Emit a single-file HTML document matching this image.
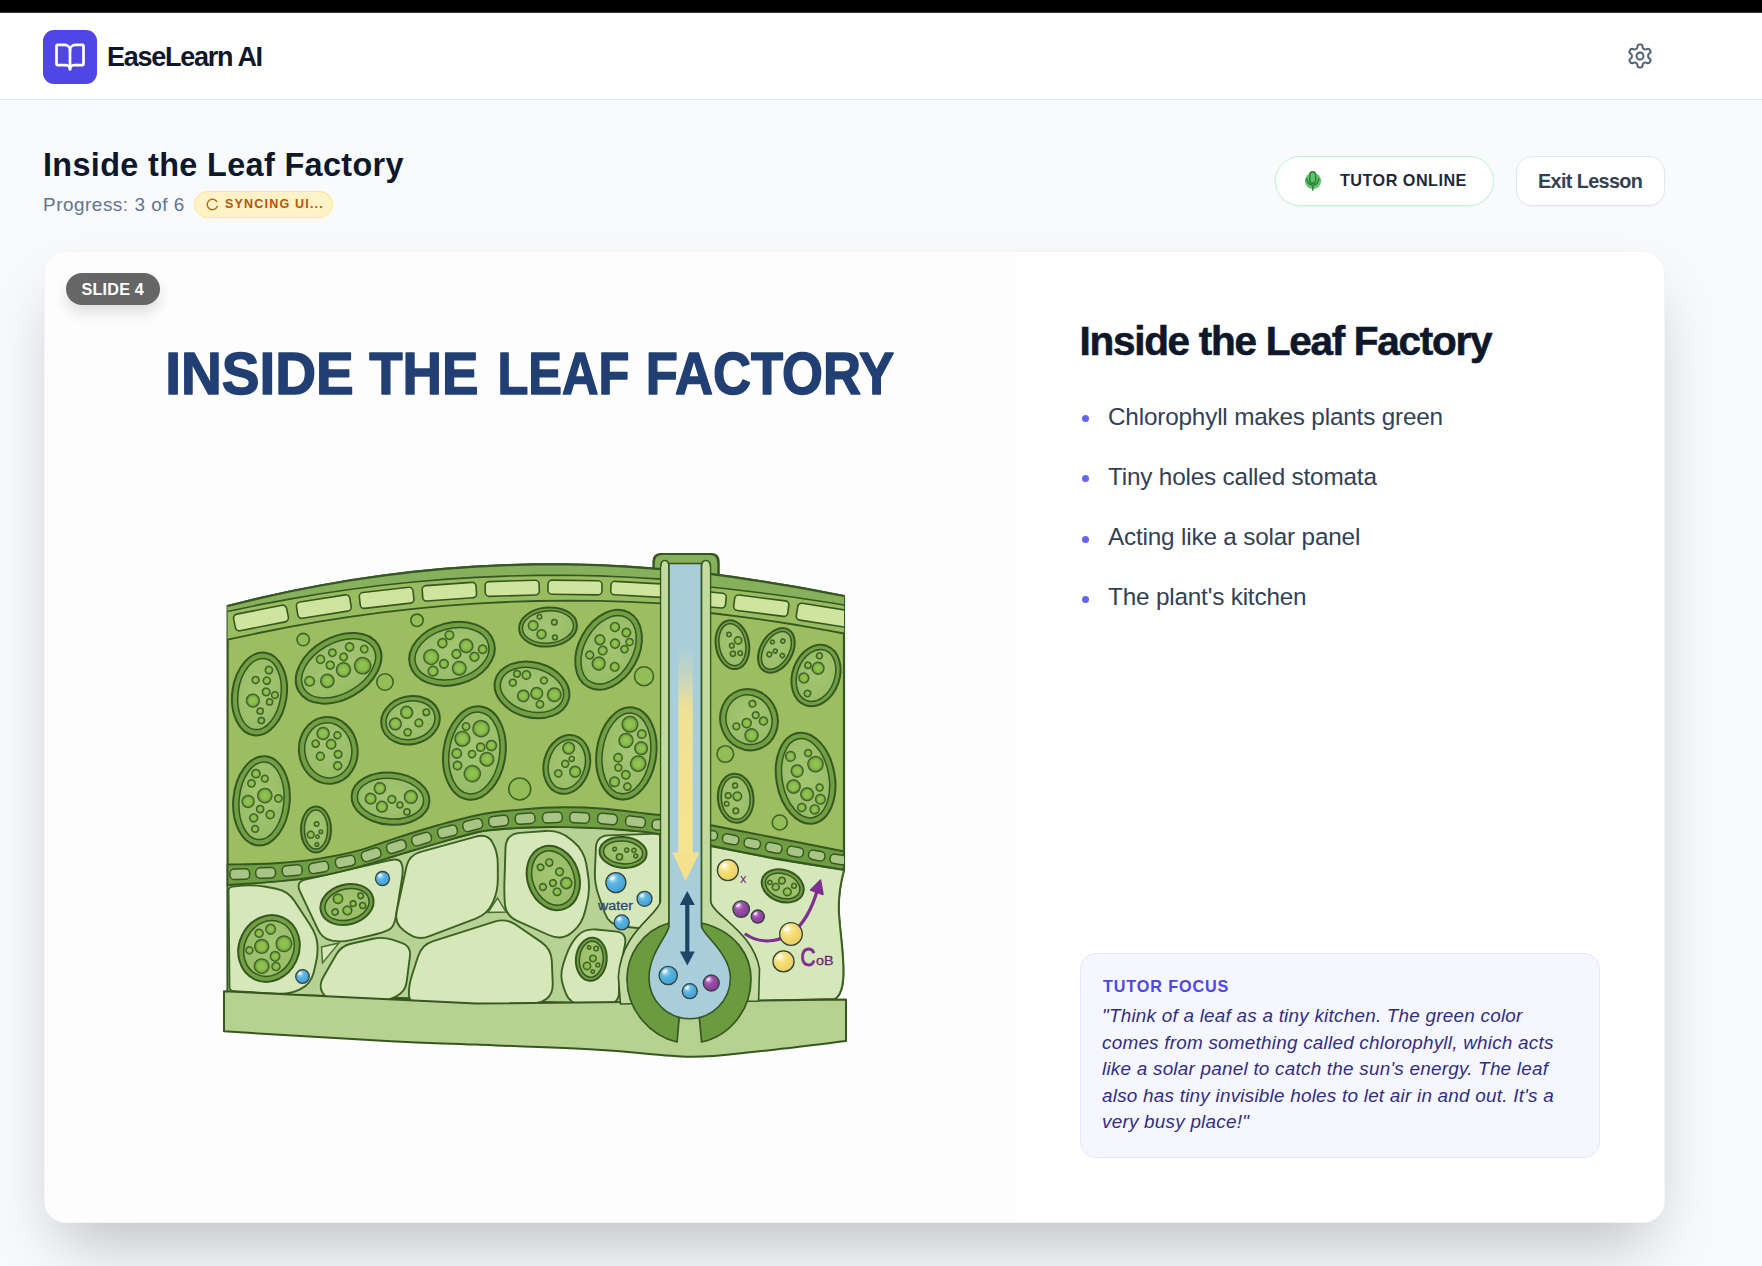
<!DOCTYPE html>
<html><head><meta charset="utf-8">
<style>
*{margin:0;padding:0;box-sizing:border-box}
html,body{width:1762px;height:1266px;overflow:hidden;background:#f8fafc;font-family:"Liberation Sans",sans-serif;position:relative}
.abs{position:absolute}
#topbar{left:0;top:0;width:1762px;height:13px;background:#000}
#topbar:after{content:"";position:absolute;left:0;right:0;bottom:0;height:1px;background:#3a3a3a}
#header{left:0;top:13px;width:1762px;height:87px;background:#fff;border-bottom:1.35px solid #e2e8f0}
#logo{left:43px;top:30px;width:54px;height:54px;border-radius:11px;background:#4f46e5}
#brand{left:107px;top:40.8px;font-size:27px;font-weight:700;color:#0f172a;letter-spacing:-1.27px;white-space:nowrap;line-height:32px}
#gear{left:1626px;top:42px}
#title{left:43px;top:144.8px;font-size:32.4px;font-weight:700;color:#0f172a;letter-spacing:0.35px;white-space:nowrap;line-height:40px}
#progress{left:43px;top:194px;font-size:18.9px;color:#64748b;letter-spacing:0.53px;white-space:nowrap;line-height:22px}
#badge{left:194px;top:191px;width:139px;height:27px;border-radius:14px;background:#fef3c7;border:1.35px solid #fde68a}
#badgetxt{left:225px;top:197px;font-size:12.5px;font-weight:700;color:#b45309;letter-spacing:1.2px;white-space:nowrap;line-height:14px}
#tutor{left:1275px;top:156px;width:219px;height:50px;border-radius:25px;background:#fff;border:1.35px solid #bbf7d0;box-shadow:0 1px 2px rgba(0,0,0,.04)}
#tutortxt{left:1340px;top:171px;font-size:16.2px;font-weight:700;color:#1e293b;letter-spacing:0.48px;white-space:nowrap;line-height:18px}
#exit{left:1516px;top:156px;width:149px;height:50px;border-radius:16px;background:#fff;border:1.35px solid #e2e8f0;box-shadow:0 1px 2px rgba(0,0,0,.04)}
#exittxt{left:1538px;top:169.5px;font-size:19.8px;font-weight:700;color:#334155;letter-spacing:-0.62px;white-space:nowrap;line-height:22px}
#card{left:44px;top:251px;width:1621px;height:972px;border-radius:21.6px;background:#fff;box-shadow:0 33.75px 67.5px -16.2px rgba(0,0,0,.25);overflow:hidden;border:1px solid #f1f5f9}
#leftpane{left:0;top:0;width:971px;height:972px;background:#fdfdfd;border-right:1.35px solid #f1f5f9}
#slidebadge{left:21px;top:21px;width:94px;height:32px;border-radius:16px;background:#666;box-shadow:0 8px 14px rgba(0,0,0,.12)}
#slidetxt{left:36.5px;top:27.5px;font-size:16.2px;font-weight:700;color:#fff;letter-spacing:0.2px;white-space:nowrap;line-height:18px}
#rtitle{left:1079.5px;top:317px;font-size:40.5px;font-weight:bold;color:#0f172a;letter-spacing:-1.28px;-webkit-text-stroke:0.6px #0f172a;white-space:nowrap;line-height:48px}
.bul{position:absolute;left:1082px;width:7px;height:7px;border-radius:50%;background:#6366f1}
.btxt{position:absolute;left:1108px;font-size:24.3px;color:#334155;letter-spacing:-0.18px;white-space:nowrap;line-height:30px}
#focus{left:1080px;top:953px;width:520px;height:205px;border-radius:16px;background:#f5f6fe;border:1.35px solid #e0e7ff}
#focuslbl{left:1103px;top:977px;font-size:16.2px;font-weight:700;color:#4f46e5;letter-spacing:0.87px;white-space:nowrap;line-height:18px}
#quote{left:1102px;top:1003px;width:480px;font-size:18.9px;font-style:italic;color:#312e81;line-height:26.6px;letter-spacing:0.23px}
.q{display:block;white-space:nowrap}
</style></head><body>
<div id="topbar" class="abs"></div>
<div id="header" class="abs"></div>
<div id="logo" class="abs">
<svg width="54" height="54" viewBox="0 0 54 54"><g transform="translate(10.8,10.8) scale(1.35)" fill="none" stroke="#fff" stroke-width="2" stroke-linecap="round" stroke-linejoin="round"><path d="M12 7v14"/><path d="M3 18a1 1 0 0 1-1-1V4a1 1 0 0 1 1-1h5a4 4 0 0 1 4 4 4 4 0 0 1 4-4h5a1 1 0 0 1 1 1v13a1 1 0 0 1-1 1h-6a3 3 0 0 0-3 3 3 3 0 0 0-3-3z"/></g></svg>
</div>
<div id="brand" class="abs">EaseLearn AI</div>
<div id="gear" class="abs"><svg width="28" height="28" viewBox="0 0 24 24" fill="none" stroke="#4b5b73" stroke-width="1.6" stroke-linecap="round" stroke-linejoin="round"><path d="M12.22 2h-.44a2 2 0 0 0-2 2v.18a2 2 0 0 1-1 1.73l-.43.25a2 2 0 0 1-2 0l-.15-.08a2 2 0 0 0-2.73.73l-.22.38a2 2 0 0 0 .73 2.73l.15.1a2 2 0 0 1 1 1.72v.51a2 2 0 0 1-1 1.74l-.15.09a2 2 0 0 0-.73 2.73l.22.38a2 2 0 0 0 2.73.73l.15-.08a2 2 0 0 1 2 0l.43.25a2 2 0 0 1 1 1.73V20a2 2 0 0 0 2 2h.44a2 2 0 0 0 2-2v-.18a2 2 0 0 1 1-1.73l.43-.25a2 2 0 0 1 2 0l.15.08a2 2 0 0 0 2.73-.73l.22-.39a2 2 0 0 0-.73-2.73l-.15-.08a2 2 0 0 1-1-1.74v-.5a2 2 0 0 1 1-1.74l.15-.09a2 2 0 0 0 .73-2.73l-.22-.38a2 2 0 0 0-2.73-.73l-.15.08a2 2 0 0 1-2 0l-.43-.25a2 2 0 0 1-1-1.73V4a2 2 0 0 0-2-2z"/><circle cx="12" cy="12" r="3"/></svg></div>

<div id="title" class="abs">Inside the Leaf Factory</div>
<div id="progress" class="abs">Progress: 3 of 6</div>
<div id="badge" class="abs"></div>
<svg class="abs" style="left:200px;top:196px" width="24" height="18" viewBox="200 196 24 18"><path d="M216.66 201.52 A5.2 5.2 0 1 0 217.29 206.28" fill="none" stroke="#b8692a" stroke-width="1.4" stroke-linecap="round"/></svg>
<div id="badgetxt" class="abs">SYNCING UI...</div>

<div id="tutor" class="abs"></div>
<svg class="abs" style="left:1300px;top:166px" width="28" height="28" viewBox="1300 166 28 28"><circle cx="1313" cy="181" r="8.1" fill="#5cc46b"/><rect x="1309.8" y="171.8" width="5.8" height="11.4" rx="2.9" fill="#5cc46b" stroke="#2f7a3a" stroke-width="1.4"/><path d="M1306.9 178.8 A5.9 6.4 0 0 0 1318.7 178.8" fill="none" stroke="#2f7a3a" stroke-width="1.4" stroke-linecap="round"/><path d="M1312.8 185.6 L1312.8 190.3" stroke="#2f7a3a" stroke-width="1.4" stroke-linecap="round"/></svg>
<div id="tutortxt" class="abs">TUTOR ONLINE</div>
<div id="exit" class="abs"></div>
<div id="exittxt" class="abs">Exit Lesson</div>

<div id="card" class="abs">
  <div id="leftpane" class="abs">
    <div id="diagram" class="abs" style="left:0;top:0;width:971px;height:972px"><svg width="971" height="972" viewBox="44 251 971 972" style="position:absolute;left:0;top:0">
<defs><linearGradient id="ytube" x1="0" y1="0" x2="0" y2="1"><stop offset="0" stop-color="#f5e38c" stop-opacity="0"/><stop offset="0.12" stop-color="#ecdf9a" stop-opacity="0.35"/><stop offset="0.3" stop-color="#f3e290" stop-opacity="0.95"/><stop offset="1" stop-color="#f6e48f"/></linearGradient><radialGradient id="bub" cx="0.35" cy="0.3" r="0.8"><stop offset="0" stop-color="#bfe6f7"/><stop offset="0.35" stop-color="#5cb5e3"/><stop offset="1" stop-color="#3b9bd0"/></radialGradient><radialGradient id="ybub" cx="0.35" cy="0.3" r="0.8"><stop offset="0" stop-color="#fff7cf"/><stop offset="0.35" stop-color="#f6df7a"/><stop offset="1" stop-color="#e9cc5a"/></radialGradient><radialGradient id="pbub" cx="0.35" cy="0.3" r="0.8"><stop offset="0" stop-color="#d9a6e0"/><stop offset="0.35" stop-color="#9b51a9"/><stop offset="1" stop-color="#7d3590"/></radialGradient><radialGradient id="dot" cx="0.5" cy="0.5" r="0.5"><stop offset="0" stop-color="#93c653"/><stop offset="0.6" stop-color="#88bc4b"/><stop offset="0.82" stop-color="#74a341"/><stop offset="1" stop-color="#7fae47"/></radialGradient><radialGradient id="inner" cx="0.5" cy="0.45" r="0.6"><stop offset="0" stop-color="#a3c672"/><stop offset="1" stop-color="#97bc66"/></radialGradient></defs>
<rect x="44" y="251" width="971" height="972" fill="#fdfdfd"/>
<g font-family="Liberation Sans" font-weight="700" font-size="60" fill="#213f73" stroke="#213f73" stroke-width="1.5" stroke-linejoin="round"><text x="164.25" y="392.9" textLength="188.43" lengthAdjust="spacingAndGlyphs">INSIDE</text><text x="368.15" y="392.9" textLength="109.26" lengthAdjust="spacingAndGlyphs">THE</text><text x="496.41" y="392.9" textLength="132.04" lengthAdjust="spacingAndGlyphs">LEAF</text><text x="644.70" y="392.9" textLength="248.51" lengthAdjust="spacingAndGlyphs">FACTORY</text></g>
<path d="M226.6 992 L226.6 605 L257 597.5 L287.5 590.8 L317.9 584.8 L348.3 579.5 L378.8 575 L409.2 571.2 L439.6 568.1 L470.1 565.8 L500.5 564.3 L531 563.4 L561.4 563.3 L591.8 564 L622.3 565.4 L652.7 567.5 L652.7 560 Q652.7 553.5 659.5 553 L711 553 Q717.4 553.5 717.4 560 L717.4 574  L733.1 576.2 L748.8 578.5 L764.5 581 L780.2 583.5 L795.9 586.2 L811.6 589 L827.3 592 L843 595 L843 869 C840 880 836.5 898 838.2 916.5 C839.5 935 843 955 842.3 974 C842 986 840 994 834 998 L226.6 998 Z" fill="#9cbe61" stroke="#365722" stroke-width="2.2" stroke-linejoin="round"/>
<path d="M652.7 580 L652.7 562 Q652.7 553 661 553 L709 553 Q717.4 553 717.4 562 L717.4 585 Z" fill="#87b05d" stroke="#365722" stroke-width="2.2" stroke-linejoin="round"/>
<path d="M226.6 605 L257.6 597.4 L288.5 590.5 L319.5 584.5 L350.4 579.2 L381.4 574.6 L412.3 570.8 L443.3 567.8 L474.3 565.6 L505.2 564.1 L536.2 563.4 L567.1 563.4 L598.1 564.2 L629 565.8 L660 568.1 L660 602.3 L629 600.8 L598.1 599.9 L567.1 599.6 L536.2 600 L505.2 601 L474.3 602.6 L443.3 604.9 L412.3 607.8 L381.4 611.4 L350.4 615.6 L319.5 620.4 L288.5 625.9 L257.6 632 L226.6 638.7 Z" fill="#98bc60"/>
<path d="M226.6 605 L257.6 597.4 L288.5 590.5 L319.5 584.5 L350.4 579.2 L381.4 574.6 L412.3 570.8 L443.3 567.8 L474.3 565.6 L505.2 564.1 L536.2 563.4 L567.1 563.4 L598.1 564.2 L629 565.8 L660 568.1 L660 578.1 L629 576.2 L598.1 574.9 L567.1 574.3 L536.2 574.4 L505.2 575.1 L474.3 576.4 L443.3 578.4 L412.3 581 L381.4 584.3 L350.4 588.3 L319.5 592.8 L288.5 598.1 L257.6 603.9 L226.6 610.5 Z" fill="#87b05d"/>
<path d="M226.6 610.5 L257.6 603.9 L288.5 598.1 L319.5 592.8 L350.4 588.3 L381.4 584.3 L412.3 581 L443.3 578.4 L474.3 576.4 L505.2 575.1 L536.2 574.4 L567.1 574.3 L598.1 574.9 L629 576.2 L660 578.1" fill="none" stroke="#365722" stroke-width="1.6"/>
<path d="M226.6 638.7 L257.6 632 L288.5 625.9 L319.5 620.4 L350.4 615.6 L381.4 611.4 L412.3 607.8 L443.3 604.9 L474.3 602.6 L505.2 601 L536.2 600 L567.1 599.6 L598.1 599.9 L629 600.8 L660 602.3" fill="none" stroke="#365722" stroke-width="1.8"/>
<path d="M226.6 605 L257.6 597.4 L288.5 590.5 L319.5 584.5 L350.4 579.2 L381.4 574.6 L412.3 570.8 L443.3 567.8 L474.3 565.6 L505.2 564.1 L536.2 563.4 L567.1 563.4 L598.1 564.2 L629 565.8 L660 568.1" fill="none" stroke="#365722" stroke-width="2.2"/>
<path d="M709 572.9 L725.8 575.2 L742.5 577.6 L759.2 580.1 L776 582.8 L792.8 585.7 L809.5 588.6 L826.2 591.8 L843 595 L843 632.5 L826.2 629.3 L809.5 626.3 L792.8 623.5 L776 620.9 L759.2 618.4 L742.5 616.1 L725.8 614 L709 612 Z" fill="#98bc60"/>
<path d="M709 572.9 L725.8 575.2 L742.5 577.6 L759.2 580.1 L776 582.8 L792.8 585.7 L809.5 588.6 L826.2 591.8 L843 595 L843 604 L826.2 601.3 L809.5 598.7 L792.8 596.3 L776 594 L759.2 591.8 L742.5 589.7 L725.8 587.8 L709 586 Z" fill="#87b05d"/>
<path d="M709 586 L725.8 587.8 L742.5 589.7 L759.2 591.8 L776 594 L792.8 596.3 L809.5 598.7 L826.2 601.3 L843 604" fill="none" stroke="#365722" stroke-width="1.6"/>
<path d="M709 612 L725.8 614 L742.5 616.1 L759.2 618.4 L776 620.9 L792.8 623.5 L809.5 626.3 L826.2 629.3 L843 632.5" fill="none" stroke="#365722" stroke-width="1.8"/>
<path d="M709 572.9 L725.8 575.2 L742.5 577.6 L759.2 580.1 L776 582.8 L792.8 585.7 L809.5 588.6 L826.2 591.8 L843 595" fill="none" stroke="#365722" stroke-width="2.2"/>
<clipPath id="clipL"><rect x="200" y="540" width="460" height="120"/></clipPath>
<clipPath id="clipR"><rect x="709.5" y="540" width="133.5" height="120"/></clipPath>
<g clip-path="url(#clipL)">
<rect x="233" y="608.5" width="54" height="17" rx="4" fill="#cfe49c" stroke="#365722" stroke-width="1.6" transform="rotate(-11.2 260 617)"/>
<rect x="295.8" y="597.3" width="54" height="16.5" rx="4" fill="#cfe49c" stroke="#365722" stroke-width="1.6" transform="rotate(-8.9 322.8 605.6)"/>
<rect x="358.6" y="588.8" width="54" height="16" rx="4" fill="#cfe49c" stroke="#365722" stroke-width="1.6" transform="rotate(-6.5 385.6 596.8)"/>
<rect x="421.4" y="583" width="54" height="15.4" rx="4" fill="#cfe49c" stroke="#365722" stroke-width="1.6" transform="rotate(-4.1 448.4 590.8)"/>
<rect x="484.2" y="579.9" width="54" height="14.8" rx="4" fill="#cfe49c" stroke="#365722" stroke-width="1.6" transform="rotate(-1.7 511.2 587.3)"/>
<rect x="547" y="579.4" width="54" height="14.2" rx="4" fill="#cfe49c" stroke="#365722" stroke-width="1.6" transform="rotate(0.8 574 586.5)"/>
<rect x="609.8" y="581.6" width="54" height="13.5" rx="4" fill="#cfe49c" stroke="#365722" stroke-width="1.6" transform="rotate(3.2 636.8 588.3)"/>
</g><g clip-path="url(#clipR)">
<rect x="670.5" y="589.9" width="54.5" height="14.9" rx="4" fill="#cfe49c" stroke="#365722" stroke-width="1.6" transform="rotate(5.6 697.8 597.3)"/>
<rect x="733" y="596.9" width="54.5" height="15.6" rx="4" fill="#cfe49c" stroke="#365722" stroke-width="1.6" transform="rotate(7.2 760.2 604.7)"/>
<rect x="795.7" y="605.8" width="54.5" height="17" rx="4" fill="#cfe49c" stroke="#365722" stroke-width="1.6" transform="rotate(8.9 823 614.3)"/>
</g>
<g transform="translate(258.5 693) rotate(8)">
<ellipse rx="27.2" ry="41.6" fill="#71a043" stroke="#365722" stroke-width="2"/>
<ellipse rx="21.4" ry="35.8" fill="url(#inner)" stroke="#365722" stroke-width="1.5"/>
<circle cx="-5.6" cy="7.4" r="6.4" fill="url(#dot)" stroke="#42642a" stroke-width="1.5"/>
<circle cx="6" cy="-25" r="3.7" fill="url(#dot)" stroke="#42642a" stroke-width="1.5"/>
<circle cx="11.1" cy="6.5" r="3.1" fill="url(#dot)" stroke="#42642a" stroke-width="1.5"/>
<circle cx="5.4" cy="-14.2" r="3.6" fill="url(#dot)" stroke="#42642a" stroke-width="1.5"/>
<circle cx="-5.8" cy="-13.4" r="3.5" fill="url(#dot)" stroke="#42642a" stroke-width="1.5"/>
<circle cx="3" cy="16.8" r="3.1" fill="url(#dot)" stroke="#42642a" stroke-width="1.5"/>
<circle cx="5.5" cy="26" r="3.1" fill="url(#dot)" stroke="#42642a" stroke-width="1.5"/>
<circle cx="6.3" cy="-3" r="3.8" fill="url(#dot)" stroke="#42642a" stroke-width="1.5"/>
<circle cx="15.4" cy="-1.1" r="3.4" fill="url(#dot)" stroke="#42642a" stroke-width="1.5"/>
</g>
<g transform="translate(337.6 667.3) rotate(-30)">
<ellipse rx="46" ry="31" fill="#71a043" stroke="#365722" stroke-width="2"/>
<ellipse rx="40.2" ry="25.2" fill="url(#inner)" stroke="#365722" stroke-width="1.5"/>
<circle cx="3.5" cy="3.7" r="7" fill="url(#dot)" stroke="#42642a" stroke-width="1.5"/>
<circle cx="-11.2" cy="-16.8" r="4.1" fill="url(#dot)" stroke="#42642a" stroke-width="1.5"/>
<circle cx="-16" cy="5.2" r="6.6" fill="url(#dot)" stroke="#42642a" stroke-width="1.5"/>
<circle cx="-31.6" cy="-3.3" r="4.8" fill="url(#dot)" stroke="#42642a" stroke-width="1.5"/>
<circle cx="22.1" cy="9.8" r="8.1" fill="url(#dot)" stroke="#42642a" stroke-width="1.5"/>
<circle cx="10" cy="-7.3" r="3.8" fill="url(#dot)" stroke="#42642a" stroke-width="1.5"/>
<circle cx="-5.7" cy="-6.9" r="4" fill="url(#dot)" stroke="#42642a" stroke-width="1.5"/>
<circle cx="2.4" cy="-16.6" r="3.7" fill="url(#dot)" stroke="#42642a" stroke-width="1.5"/>
<circle cx="20.2" cy="-13" r="4.1" fill="url(#dot)" stroke="#42642a" stroke-width="1.5"/>
<circle cx="31.8" cy="-3.8" r="3.7" fill="url(#dot)" stroke="#42642a" stroke-width="1.5"/>
</g>
<g transform="translate(327.3 749.4) rotate(-8)">
<ellipse rx="29.3" ry="33.4" fill="#71a043" stroke="#365722" stroke-width="2"/>
<ellipse rx="23.5" ry="27.6" fill="url(#inner)" stroke="#365722" stroke-width="1.5"/>
<circle cx="3.6" cy="-5.7" r="4.7" fill="url(#dot)" stroke="#42642a" stroke-width="1.5"/>
<circle cx="-8.7" cy="4.7" r="4" fill="url(#dot)" stroke="#42642a" stroke-width="1.5"/>
<circle cx="9.2" cy="5.2" r="3.8" fill="url(#dot)" stroke="#42642a" stroke-width="1.5"/>
<circle cx="-11.6" cy="-8.4" r="3.6" fill="url(#dot)" stroke="#42642a" stroke-width="1.5"/>
<circle cx="7.2" cy="16.5" r="4" fill="url(#dot)" stroke="#42642a" stroke-width="1.5"/>
<circle cx="-2.8" cy="-17.5" r="6" fill="url(#dot)" stroke="#42642a" stroke-width="1.5"/>
<circle cx="11.1" cy="-13.7" r="3.5" fill="url(#dot)" stroke="#42642a" stroke-width="1.5"/>
</g>
<g transform="translate(409.5 719.2) rotate(-12)">
<ellipse rx="29.5" ry="24" fill="#71a043" stroke="#365722" stroke-width="2"/>
<ellipse rx="24.7" ry="19.2" fill="url(#inner)" stroke="#365722" stroke-width="1.5"/>
<circle cx="-15.6" cy="0.5" r="5.9" fill="url(#dot)" stroke="#42642a" stroke-width="1.5"/>
<circle cx="7.6" cy="4.4" r="3.9" fill="url(#dot)" stroke="#42642a" stroke-width="1.5"/>
<circle cx="-2.1" cy="-8.5" r="6" fill="url(#dot)" stroke="#42642a" stroke-width="1.5"/>
<circle cx="17.1" cy="-4.4" r="3.2" fill="url(#dot)" stroke="#42642a" stroke-width="1.5"/>
<circle cx="-5.3" cy="11.2" r="3.6" fill="url(#dot)" stroke="#42642a" stroke-width="1.5"/>
</g>
<g transform="translate(260.5 799.8) rotate(5)">
<ellipse rx="28.2" ry="44.7" fill="#71a043" stroke="#365722" stroke-width="2"/>
<ellipse rx="22.4" ry="38.9" fill="url(#inner)" stroke="#365722" stroke-width="1.5"/>
<circle cx="1.4" cy="-22.3" r="3.4" fill="url(#dot)" stroke="#42642a" stroke-width="1.5"/>
<circle cx="2.9" cy="-5.5" r="7.1" fill="url(#dot)" stroke="#42642a" stroke-width="1.5"/>
<circle cx="-13.3" cy="1.8" r="6" fill="url(#dot)" stroke="#42642a" stroke-width="1.5"/>
<circle cx="-3.9" cy="28.6" r="3.4" fill="url(#dot)" stroke="#42642a" stroke-width="1.5"/>
<circle cx="-6.3" cy="17.7" r="4" fill="url(#dot)" stroke="#42642a" stroke-width="1.5"/>
<circle cx="-11.5" cy="-16.5" r="3.7" fill="url(#dot)" stroke="#42642a" stroke-width="1.5"/>
<circle cx="-0.6" cy="8.4" r="3.6" fill="url(#dot)" stroke="#42642a" stroke-width="1.5"/>
<circle cx="9.9" cy="13" r="4.1" fill="url(#dot)" stroke="#42642a" stroke-width="1.5"/>
<circle cx="-7.9" cy="-26.6" r="4.2" fill="url(#dot)" stroke="#42642a" stroke-width="1.5"/>
<circle cx="16.6" cy="-3.8" r="3.7" fill="url(#dot)" stroke="#42642a" stroke-width="1.5"/>
</g>
<g transform="translate(315 828.5) rotate(0)">
<ellipse rx="15" ry="23" fill="#71a043" stroke="#365722" stroke-width="2"/>
<ellipse rx="11.6" ry="19.6" fill="url(#inner)" stroke="#365722" stroke-width="1.5"/>
<circle cx="4.8" cy="2.3" r="1.8" fill="url(#dot)" stroke="#42642a" stroke-width="1.5"/>
<circle cx="0.9" cy="15" r="1.8" fill="url(#dot)" stroke="#42642a" stroke-width="1.5"/>
<circle cx="0.6" cy="-5.5" r="2.3" fill="url(#dot)" stroke="#42642a" stroke-width="1.5"/>
<circle cx="-5.3" cy="5.2" r="3.4" fill="url(#dot)" stroke="#42642a" stroke-width="1.5"/>
<circle cx="1.5" cy="7.3" r="1.7" fill="url(#dot)" stroke="#42642a" stroke-width="1.5"/>
</g>
<g transform="translate(389.5 797.7) rotate(5)">
<ellipse rx="39" ry="26" fill="#71a043" stroke="#365722" stroke-width="2"/>
<ellipse rx="33.2" ry="20.2" fill="url(#inner)" stroke="#365722" stroke-width="1.5"/>
<circle cx="1.4" cy="0.5" r="3.9" fill="url(#dot)" stroke="#42642a" stroke-width="1.5"/>
<circle cx="-11.5" cy="-9.4" r="5.6" fill="url(#dot)" stroke="#42642a" stroke-width="1.5"/>
<circle cx="-19.8" cy="1.7" r="5.3" fill="url(#dot)" stroke="#42642a" stroke-width="1.5"/>
<circle cx="20.1" cy="-3.5" r="6.4" fill="url(#dot)" stroke="#42642a" stroke-width="1.5"/>
<circle cx="9.9" cy="5.4" r="3" fill="url(#dot)" stroke="#42642a" stroke-width="1.5"/>
<circle cx="-7.8" cy="8.7" r="5.4" fill="url(#dot)" stroke="#42642a" stroke-width="1.5"/>
<circle cx="17.5" cy="11.7" r="3.1" fill="url(#dot)" stroke="#42642a" stroke-width="1.5"/>
</g>
<g transform="translate(451 652.8) rotate(-15)">
<ellipse rx="43.5" ry="31" fill="#71a043" stroke="#365722" stroke-width="2"/>
<ellipse rx="37.7" ry="25.2" fill="url(#inner)" stroke="#365722" stroke-width="1.5"/>
<circle cx="2.3" cy="-18.6" r="4.3" fill="url(#dot)" stroke="#42642a" stroke-width="1.5"/>
<circle cx="-21" cy="-2.3" r="7.4" fill="url(#dot)" stroke="#42642a" stroke-width="1.5"/>
<circle cx="15.8" cy="-4" r="6.6" fill="url(#dot)" stroke="#42642a" stroke-width="1.5"/>
<circle cx="3.3" cy="15.8" r="6.8" fill="url(#dot)" stroke="#42642a" stroke-width="1.5"/>
<circle cx="4.2" cy="1.3" r="4.4" fill="url(#dot)" stroke="#42642a" stroke-width="1.5"/>
<circle cx="20.9" cy="8.7" r="4.4" fill="url(#dot)" stroke="#42642a" stroke-width="1.5"/>
<circle cx="-10.4" cy="7.6" r="4.3" fill="url(#dot)" stroke="#42642a" stroke-width="1.5"/>
<circle cx="-6.5" cy="-12.8" r="4.5" fill="url(#dot)" stroke="#42642a" stroke-width="1.5"/>
<circle cx="-22.8" cy="11.8" r="4.9" fill="url(#dot)" stroke="#42642a" stroke-width="1.5"/>
<circle cx="30.8" cy="3.5" r="4.2" fill="url(#dot)" stroke="#42642a" stroke-width="1.5"/>
</g>
<g transform="translate(473.4 752) rotate(8)">
<ellipse rx="31" ry="47" fill="#71a043" stroke="#365722" stroke-width="2"/>
<ellipse rx="25.2" ry="41.2" fill="url(#inner)" stroke="#365722" stroke-width="1.5"/>
<circle cx="-13.9" cy="-12.4" r="7.4" fill="url(#dot)" stroke="#42642a" stroke-width="1.5"/>
<circle cx="5.4" cy="-6.6" r="4.1" fill="url(#dot)" stroke="#42642a" stroke-width="1.5"/>
<circle cx="3.2" cy="-25" r="8.1" fill="url(#dot)" stroke="#42642a" stroke-width="1.5"/>
<circle cx="0.8" cy="20.8" r="8.1" fill="url(#dot)" stroke="#42642a" stroke-width="1.5"/>
<circle cx="-17.4" cy="2.9" r="4.7" fill="url(#dot)" stroke="#42642a" stroke-width="1.5"/>
<circle cx="-15" cy="14.8" r="4.2" fill="url(#dot)" stroke="#42642a" stroke-width="1.5"/>
<circle cx="13.2" cy="4.4" r="6.8" fill="url(#dot)" stroke="#42642a" stroke-width="1.5"/>
<circle cx="15.8" cy="-9.8" r="5.1" fill="url(#dot)" stroke="#42642a" stroke-width="1.5"/>
<circle cx="-2.2" cy="1.4" r="3.6" fill="url(#dot)" stroke="#42642a" stroke-width="1.5"/>
<circle cx="-12" cy="-25.1" r="3.7" fill="url(#dot)" stroke="#42642a" stroke-width="1.5"/>
</g>
<g transform="translate(531 688.9) rotate(15)">
<ellipse rx="38" ry="27.5" fill="#71a043" stroke="#365722" stroke-width="2"/>
<ellipse rx="32.2" ry="21.7" fill="url(#inner)" stroke="#365722" stroke-width="1.5"/>
<circle cx="-6.9" cy="8" r="5.7" fill="url(#dot)" stroke="#42642a" stroke-width="1.5"/>
<circle cx="5.5" cy="2.1" r="5.9" fill="url(#dot)" stroke="#42642a" stroke-width="1.5"/>
<circle cx="-9.3" cy="-12.9" r="4.2" fill="url(#dot)" stroke="#42642a" stroke-width="1.5"/>
<circle cx="9.1" cy="-12.2" r="3.4" fill="url(#dot)" stroke="#42642a" stroke-width="1.5"/>
<circle cx="22.8" cy="-1.1" r="6.8" fill="url(#dot)" stroke="#42642a" stroke-width="1.5"/>
<circle cx="-20.4" cy="-2" r="3.5" fill="url(#dot)" stroke="#42642a" stroke-width="1.5"/>
<circle cx="11.4" cy="11.8" r="3.7" fill="url(#dot)" stroke="#42642a" stroke-width="1.5"/>
<circle cx="-18.6" cy="-11.7" r="3.3" fill="url(#dot)" stroke="#42642a" stroke-width="1.5"/>
</g>
<g transform="translate(547 626) rotate(-5)">
<ellipse rx="29" ry="19.5" fill="#71a043" stroke="#365722" stroke-width="2"/>
<ellipse rx="25.6" ry="16.1" fill="url(#inner)" stroke="#365722" stroke-width="1.5"/>
<circle cx="6" cy="11" r="2.4" fill="url(#dot)" stroke="#42642a" stroke-width="1.5"/>
<circle cx="6.7" cy="-4.2" r="2.8" fill="url(#dot)" stroke="#42642a" stroke-width="1.5"/>
<circle cx="-7.1" cy="6.6" r="4.5" fill="url(#dot)" stroke="#42642a" stroke-width="1.5"/>
<circle cx="-14.7" cy="-2.7" r="4.8" fill="url(#dot)" stroke="#42642a" stroke-width="1.5"/>
<circle cx="-7.6" cy="-11" r="2.3" fill="url(#dot)" stroke="#42642a" stroke-width="1.5"/>
</g>
<g transform="translate(607.6 648.8) rotate(29)">
<ellipse rx="30" ry="42.5" fill="#71a043" stroke="#365722" stroke-width="2"/>
<ellipse rx="24.2" ry="36.7" fill="url(#inner)" stroke="#365722" stroke-width="1.5"/>
<circle cx="2.6" cy="-8.5" r="4.5" fill="url(#dot)" stroke="#42642a" stroke-width="1.5"/>
<circle cx="13.6" cy="11.9" r="4.3" fill="url(#dot)" stroke="#42642a" stroke-width="1.5"/>
<circle cx="-2" cy="16.8" r="6.4" fill="url(#dot)" stroke="#42642a" stroke-width="1.5"/>
<circle cx="-12.5" cy="-4.6" r="4.9" fill="url(#dot)" stroke="#42642a" stroke-width="1.5"/>
<circle cx="-14" cy="13.7" r="3.9" fill="url(#dot)" stroke="#42642a" stroke-width="1.5"/>
<circle cx="7.2" cy="-23.7" r="4.2" fill="url(#dot)" stroke="#42642a" stroke-width="1.5"/>
<circle cx="-5.5" cy="-23" r="4.5" fill="url(#dot)" stroke="#42642a" stroke-width="1.5"/>
<circle cx="14.6" cy="-17" r="3.6" fill="url(#dot)" stroke="#42642a" stroke-width="1.5"/>
<circle cx="-4.8" cy="3.5" r="4.3" fill="url(#dot)" stroke="#42642a" stroke-width="1.5"/>
<circle cx="13.6" cy="-8.2" r="3.6" fill="url(#dot)" stroke="#42642a" stroke-width="1.5"/>
</g>
<g transform="translate(565.8 763.4) rotate(15)">
<ellipse rx="22.9" ry="29.8" fill="#71a043" stroke="#365722" stroke-width="2"/>
<ellipse rx="18.1" ry="25" fill="url(#inner)" stroke="#365722" stroke-width="1.5"/>
<circle cx="-1.7" cy="-0.1" r="3.5" fill="url(#dot)" stroke="#42642a" stroke-width="1.5"/>
<circle cx="-2.4" cy="-16.2" r="5.8" fill="url(#dot)" stroke="#42642a" stroke-width="1.5"/>
<circle cx="9.9" cy="4.9" r="5.4" fill="url(#dot)" stroke="#42642a" stroke-width="1.5"/>
<circle cx="3.3" cy="-6.6" r="2.6" fill="url(#dot)" stroke="#42642a" stroke-width="1.5"/>
<circle cx="-5.9" cy="10.9" r="3.6" fill="url(#dot)" stroke="#42642a" stroke-width="1.5"/>
</g>
<g transform="translate(625.4 752.4) rotate(8)">
<ellipse rx="29.8" ry="46.4" fill="#71a043" stroke="#365722" stroke-width="2"/>
<ellipse rx="24" ry="40.6" fill="url(#inner)" stroke="#365722" stroke-width="1.5"/>
<circle cx="-2.2" cy="-12.7" r="7" fill="url(#dot)" stroke="#42642a" stroke-width="1.5"/>
<circle cx="-6" cy="15.2" r="3.5" fill="url(#dot)" stroke="#42642a" stroke-width="1.5"/>
<circle cx="12.6" cy="-21.2" r="4.2" fill="url(#dot)" stroke="#42642a" stroke-width="1.5"/>
<circle cx="13.1" cy="8.5" r="7.6" fill="url(#dot)" stroke="#42642a" stroke-width="1.5"/>
<circle cx="-7.8" cy="29.8" r="4.8" fill="url(#dot)" stroke="#42642a" stroke-width="1.5"/>
<circle cx="2.4" cy="21.3" r="4.2" fill="url(#dot)" stroke="#42642a" stroke-width="1.5"/>
<circle cx="-0.5" cy="-29.3" r="7.8" fill="url(#dot)" stroke="#42642a" stroke-width="1.5"/>
<circle cx="13.9" cy="-7.1" r="6.3" fill="url(#dot)" stroke="#42642a" stroke-width="1.5"/>
<circle cx="5.6" cy="32.8" r="3.6" fill="url(#dot)" stroke="#42642a" stroke-width="1.5"/>
<circle cx="-7.6" cy="5.4" r="4.2" fill="url(#dot)" stroke="#42642a" stroke-width="1.5"/>
</g>
<g transform="translate(731.4 643.7) rotate(-10)">
<ellipse rx="16.6" ry="24.6" fill="#71a043" stroke="#365722" stroke-width="2"/>
<ellipse rx="13.2" ry="21.2" fill="url(#inner)" stroke="#365722" stroke-width="1.5"/>
<circle cx="-1.1" cy="9" r="2.6" fill="url(#dot)" stroke="#42642a" stroke-width="1.5"/>
<circle cx="6.2" cy="9.7" r="2.3" fill="url(#dot)" stroke="#42642a" stroke-width="1.5"/>
<circle cx="-1.6" cy="-10.7" r="2.2" fill="url(#dot)" stroke="#42642a" stroke-width="1.5"/>
<circle cx="6.3" cy="-3.2" r="3.7" fill="url(#dot)" stroke="#42642a" stroke-width="1.5"/>
<circle cx="-0.7" cy="0.9" r="2.4" fill="url(#dot)" stroke="#42642a" stroke-width="1.5"/>
</g>
<g transform="translate(775.4 649.4) rotate(30)">
<ellipse rx="16" ry="24" fill="#71a043" stroke="#365722" stroke-width="2"/>
<ellipse rx="12.6" ry="20.6" fill="url(#inner)" stroke="#365722" stroke-width="1.5"/>
<circle cx="7.7" cy="1.5" r="2.1" fill="url(#dot)" stroke="#42642a" stroke-width="1.5"/>
<circle cx="-4.1" cy="7" r="2.4" fill="url(#dot)" stroke="#42642a" stroke-width="1.5"/>
<circle cx="0.9" cy="-11.3" r="2.1" fill="url(#dot)" stroke="#42642a" stroke-width="1.5"/>
<circle cx="-0.7" cy="1.1" r="2" fill="url(#dot)" stroke="#42642a" stroke-width="1.5"/>
<circle cx="-7.6" cy="-5.3" r="1.9" fill="url(#dot)" stroke="#42642a" stroke-width="1.5"/>
</g>
<g transform="translate(815 674.5) rotate(20)">
<ellipse rx="23.5" ry="31.5" fill="#71a043" stroke="#365722" stroke-width="2"/>
<ellipse rx="18.7" ry="26.7" fill="url(#inner)" stroke="#365722" stroke-width="1.5"/>
<circle cx="-0.5" cy="-7.5" r="5.9" fill="url(#dot)" stroke="#42642a" stroke-width="1.5"/>
<circle cx="-3.5" cy="-19.7" r="3" fill="url(#dot)" stroke="#42642a" stroke-width="1.5"/>
<circle cx="-10.6" cy="6.5" r="4.9" fill="url(#dot)" stroke="#42642a" stroke-width="1.5"/>
<circle cx="-11.1" cy="-6.8" r="3.1" fill="url(#dot)" stroke="#42642a" stroke-width="1.5"/>
<circle cx="-1.9" cy="19.8" r="3.2" fill="url(#dot)" stroke="#42642a" stroke-width="1.5"/>
</g>
<g transform="translate(748 718.7) rotate(-20)">
<ellipse rx="28.6" ry="30.9" fill="#71a043" stroke="#365722" stroke-width="2"/>
<ellipse rx="22.8" ry="25.1" fill="url(#inner)" stroke="#365722" stroke-width="1.5"/>
<circle cx="-3" cy="15.5" r="6.5" fill="url(#dot)" stroke="#42642a" stroke-width="1.5"/>
<circle cx="-14.1" cy="1.9" r="3.4" fill="url(#dot)" stroke="#42642a" stroke-width="1.5"/>
<circle cx="-3.3" cy="2.4" r="4.6" fill="url(#dot)" stroke="#42642a" stroke-width="1.5"/>
<circle cx="7.9" cy="-2" r="3.4" fill="url(#dot)" stroke="#42642a" stroke-width="1.5"/>
<circle cx="13.1" cy="6.2" r="4" fill="url(#dot)" stroke="#42642a" stroke-width="1.5"/>
<circle cx="8.7" cy="-13.8" r="3.3" fill="url(#dot)" stroke="#42642a" stroke-width="1.5"/>
</g>
<g transform="translate(804.6 777.2) rotate(-10)">
<ellipse rx="29.2" ry="45.9" fill="#71a043" stroke="#365722" stroke-width="2"/>
<ellipse rx="23.4" ry="40.1" fill="url(#inner)" stroke="#365722" stroke-width="1.5"/>
<circle cx="-11.1" cy="-24.1" r="4.8" fill="url(#dot)" stroke="#42642a" stroke-width="1.5"/>
<circle cx="12.2" cy="-12.1" r="7.6" fill="url(#dot)" stroke="#42642a" stroke-width="1.5"/>
<circle cx="-7" cy="-8.6" r="6" fill="url(#dot)" stroke="#42642a" stroke-width="1.5"/>
<circle cx="-13.3" cy="6.1" r="6.6" fill="url(#dot)" stroke="#42642a" stroke-width="1.5"/>
<circle cx="-1.3" cy="16.1" r="6.3" fill="url(#dot)" stroke="#42642a" stroke-width="1.5"/>
<circle cx="-8.9" cy="28.2" r="4.1" fill="url(#dot)" stroke="#42642a" stroke-width="1.5"/>
<circle cx="3.5" cy="32.3" r="4.5" fill="url(#dot)" stroke="#42642a" stroke-width="1.5"/>
<circle cx="12.2" cy="11.6" r="3.5" fill="url(#dot)" stroke="#42642a" stroke-width="1.5"/>
<circle cx="6.8" cy="-24.3" r="3.5" fill="url(#dot)" stroke="#42642a" stroke-width="1.5"/>
<circle cx="10.9" cy="23.3" r="4.8" fill="url(#dot)" stroke="#42642a" stroke-width="1.5"/>
</g>
<g transform="translate(734.7 797.2) rotate(-5)">
<ellipse rx="17.8" ry="24.6" fill="#71a043" stroke="#365722" stroke-width="2"/>
<ellipse rx="14.4" ry="21.2" fill="url(#inner)" stroke="#365722" stroke-width="1.5"/>
<circle cx="1.8" cy="-1.7" r="4.3" fill="url(#dot)" stroke="#42642a" stroke-width="1.5"/>
<circle cx="0.5" cy="-12.6" r="2.5" fill="url(#dot)" stroke="#42642a" stroke-width="1.5"/>
<circle cx="-1" cy="12.6" r="2.8" fill="url(#dot)" stroke="#42642a" stroke-width="1.5"/>
<circle cx="-9.5" cy="4.8" r="2.3" fill="url(#dot)" stroke="#42642a" stroke-width="1.5"/>
<circle cx="-7.3" cy="-3.3" r="2.9" fill="url(#dot)" stroke="#42642a" stroke-width="1.5"/>
</g>
<circle cx="302.2" cy="638.6" r="6.2" fill="#93bd57" stroke="#3d6424" stroke-width="1.6"/>
<circle cx="384" cy="681" r="8.2" fill="#93bd57" stroke="#3d6424" stroke-width="1.6"/>
<circle cx="416" cy="619.3" r="6.2" fill="#93bd57" stroke="#3d6424" stroke-width="1.6"/>
<circle cx="518.7" cy="788" r="11" fill="#93bd57" stroke="#3d6424" stroke-width="1.6"/>
<circle cx="643" cy="675.2" r="9.5" fill="#93bd57" stroke="#3d6424" stroke-width="1.6"/>
<circle cx="724.3" cy="753" r="8.3" fill="#93bd57" stroke="#3d6424" stroke-width="1.6"/>
<circle cx="778.7" cy="821.5" r="7.5" fill="#93bd57" stroke="#3d6424" stroke-width="1.6"/>
<path d="M226.6 884 L274.5 880.6 L315.3 875.8 L356.2 866.3 L397.1 854 L437.9 841.8 L480.9 830.2 L521.7 826.8 L562.6 826.1 L603.4 827.5 L644.3 830.9 L660 833.8 L660 1004 L226.6 992 Z" fill="#b8d295" stroke="#365722" stroke-width="1.5"/>
<path d="M227.5 890 Q227.5 886 231.5 885.6 L241.4 884.6 Q252.9 883.5 264.7 885.7 L275.2 887.8 Q287 890 293.5 900.1 L308.9 923.6 Q315.4 933.7 316.3 942.3 L316.4 944.1 Q317.3 952.7 314.4 964.3 L312.7 971.4 Q309.8 983 300.3 987.7 L298.4 988.7 Q288.9 993.4 276.9 992.7 L232.5 990.2 Q228.5 990 228.5 986 Z" fill="#d6e7b9" stroke="#3b6223" stroke-width="1.9"/>
<path d="M298.8 890.1 Q294.6 881 304.3 878.7 L388.3 859.3 Q398 857 400.1 861.7 L400.5 862.7 Q402.6 867.4 401 877.3 L394.7 916.2 Q393.1 926.1 388 928.7 L386.9 929.2 Q381.8 931.8 372 934 L349.8 939.1 Q340 941.3 331.4 939.6 L329.7 939.2 Q321.1 937.5 316.9 928.4 Z" fill="#d6e7b9" stroke="#3b6223" stroke-width="1.9"/>
<path d="M335.1 953.7 Q340 945 349.8 942.8 L372 937.8 Q381.8 935.6 391.3 938.7 L400.7 941.9 Q410.2 945 409 954.9 L405.7 980.7 Q404.5 990.6 395.6 995.1 L392.6 996.5 Q383.7 1001 373.7 1000.8 L336.8 1000.2 Q326.8 1000 322.5 993.1 L321.6 991.8 Q317.3 984.9 322.2 976.2 Z" fill="#d6e7b9" stroke="#3b6223" stroke-width="1.9"/>
<path d="M405.4 865.7 Q408 854 419.6 850.8 L474.9 835.7 Q486.5 832.5 491.2 841.1 L492.1 842.8 Q496.8 851.4 496.8 863.4 L496.8 878.4 Q496.8 890.4 492.1 900.7 L491.2 902.7 Q486.5 913 475.3 917.3 L427.9 935.4 Q416.7 939.7 407 932.6 L402.8 929.4 Q393.1 922.3 395.7 910.6 Z" fill="#d6e7b9" stroke="#3b6223" stroke-width="1.9"/>
<path d="M417.1 955.2 Q420.8 943.8 432.2 940.2 L493.6 920.6 Q505 917 514.9 923.8 L540.3 941.1 Q550.2 947.9 550.8 959.9 L551.7 981.1 Q552.3 993.1 545.8 997.6 L544.4 998.5 Q537.9 1003 525.9 1003 L420.5 1003 Q408.5 1003 408 994.8 L408 993.1 Q407.5 984.9 411.2 973.5 Z" fill="#d6e7b9" stroke="#3b6223" stroke-width="1.9"/>
<path d="M504.5 846.9 Q505 832.9 519 831.9 L544.4 830 Q558.4 829 569.2 837.9 L572.3 840.4 Q583.1 849.3 585.3 863.1 L587.1 874.5 Q589.3 888.3 586.1 901.9 L584.2 909.7 Q581 923.3 571.7 930.8 L569.8 932.2 Q560.5 939.7 547.7 934 L517.8 920.7 Q505 915 504.1 904.7 L503.9 902.7 Q503 892.4 503.5 878.4 Z" fill="#d6e7b9" stroke="#3b6223" stroke-width="1.9"/>
<path d="M594.9 846.9 Q595.4 834.9 607.4 834.4 L657 832.6 Q659 832.5 659 834.5 L659 925.4 Q659 927.4 657 927.4 L646.7 927.4 Q636.5 927.4 624.6 925.7 L619.6 925 Q607.7 923.3 603.8 912 L597.3 893.5 Q593.4 882.2 593.9 870.2 Z" fill="#d6e7b9" stroke="#3b6223" stroke-width="1.9"/>
<path d="M576.6 934.9 Q583.1 927.4 595 928.5 L614.3 930.4 Q626.2 931.5 624 943.3 L620.2 962.8 Q618 974.6 618 986.6 L618 991 Q618 1003 606 1003 L580.7 1003 Q568.7 1003 564.6 991.7 L562.5 985.9 Q558.4 974.6 562.2 963.2 L564.9 955.2 Q568.7 943.8 575.2 936.3 Z" fill="#d6e7b9" stroke="#3b6223" stroke-width="1.9"/>
<path d="M320.5 946 L338 942 L321.5 962 Z" fill="#d6e7b9" stroke="#46702a" stroke-width="1.4"/>
<path d="M487 911.5 L496.5 897 L505 911 Z" fill="#d6e7b9" stroke="#46702a" stroke-width="1.4"/>
<path d="M709.5 845 L775 858 L843 869 C840 880 836.5 898 838.2 916.5 C839.5 935 843 955 842.3 974 C842 986 840 994 834 998 L709.5 1001 Z" fill="#d6e7b9" stroke="#3b6223" stroke-width="1.9"/>
<path d="M226.6 863.5 C234.6 863.3 259.7 863.1 274.5 862.2 C289.3 861.3 301.7 860.2 315.3 858.1 C328.9 856 342.6 853.5 356.2 849.9 C369.8 846.3 383.5 840.6 397.1 836.3 C410.7 832 423.9 827.9 437.9 824 C451.9 820.1 466.9 815.8 480.9 813.2 C494.9 810.6 508.1 809.5 521.7 808.4 C535.3 807.2 549 806.4 562.6 806.3 C576.2 806.2 589.8 806.7 603.4 807.7 C617 808.7 634.9 811.5 644.3 812.5 C653.7 813.5 657.4 813.8 660 814 L660 833.8 C657.4 833.3 653.7 831.9 644.3 830.9 C634.9 829.9 617 828.3 603.4 827.5 C589.8 826.7 576.2 826.2 562.6 826.1 C549 826 535.3 826.1 521.7 826.8 C508.1 827.5 494.9 827.7 480.9 830.2 C466.9 832.7 451.9 837.8 437.9 841.8 C423.9 845.8 410.7 849.9 397.1 854 C383.5 858.1 369.8 862.7 356.2 866.3 C342.6 869.9 328.9 873.4 315.3 875.8 C301.7 878.2 289.3 879.2 274.5 880.6 C259.7 882 234.6 883.4 226.6 884 Z" fill="#6f9d42" stroke="#365722" stroke-width="1.9" stroke-linejoin="round"/>
<clipPath id="clipLB"><rect x="220" y="780" width="439.5" height="120"/></clipPath>
<g clip-path="url(#clipLB)">
<rect x="228.9" y="867.9" width="19.8" height="10.5" rx="4.5" fill="#a9c586" stroke="#365722" stroke-width="1.5" transform="rotate(-1.6 238.8 873.2)"/>
<rect x="254.7" y="866.6" width="19.8" height="10.5" rx="4.5" fill="#a9c586" stroke="#365722" stroke-width="1.5" transform="rotate(-1.6 264.6 871.9)"/>
<rect x="281.3" y="864.3" width="19.8" height="10.5" rx="4.5" fill="#a9c586" stroke="#365722" stroke-width="1.5" transform="rotate(-5.7 291.2 869.6)"/>
<rect x="307.8" y="861.2" width="19.8" height="10.5" rx="4.5" fill="#a9c586" stroke="#365722" stroke-width="1.5" transform="rotate(-9.7 317.7 866.4)"/>
<rect x="334.4" y="855.4" width="19.8" height="10.5" rx="4.5" fill="#a9c586" stroke="#365722" stroke-width="1.5" transform="rotate(-11.3 344.3 860.7)"/>
<rect x="360.3" y="848.4" width="19.8" height="10.5" rx="4.5" fill="#a9c586" stroke="#365722" stroke-width="1.5" transform="rotate(-18.4 370.2 853.7)"/>
<rect x="385.5" y="840.4" width="19.8" height="10.5" rx="4.5" fill="#a9c586" stroke="#365722" stroke-width="1.5" transform="rotate(-17.8 395.4 845.7)"/>
<rect x="410.7" y="832.8" width="19.8" height="10.5" rx="4.5" fill="#a9c586" stroke="#365722" stroke-width="1.5" transform="rotate(-16.8 420.6 838.1)"/>
<rect x="436.6" y="825.4" width="19.8" height="10.5" rx="4.5" fill="#a9c586" stroke="#365722" stroke-width="1.5" transform="rotate(-14.1 446.5 830.7)"/>
<rect x="461.8" y="818.8" width="19.8" height="10.5" rx="4.5" fill="#a9c586" stroke="#365722" stroke-width="1.5" transform="rotate(-14.1 471.7 824.1)"/>
<rect x="487.7" y="814.8" width="19.8" height="10.5" rx="4.5" fill="#a9c586" stroke="#365722" stroke-width="1.5" transform="rotate(-6.7 497.6 820)"/>
<rect x="514.2" y="812.3" width="19.8" height="10.5" rx="4.5" fill="#a9c586" stroke="#365722" stroke-width="1.5" transform="rotate(-4.1 524.1 817.5)"/>
<rect x="541.5" y="811.3" width="19.8" height="10.5" rx="4.5" fill="#a9c586" stroke="#365722" stroke-width="1.5" transform="rotate(-2.9 551.4 816.6)"/>
<rect x="568.7" y="811.5" width="19.8" height="10.5" rx="4.5" fill="#a9c586" stroke="#365722" stroke-width="1.5" transform="rotate(2 578.6 816.7)"/>
<rect x="596.6" y="812.7" width="19.8" height="10.5" rx="4.5" fill="#a9c586" stroke="#365722" stroke-width="1.5" transform="rotate(5.6 606.5 817.9)"/>
<rect x="624.6" y="815.5" width="19.8" height="10.5" rx="4.5" fill="#a9c586" stroke="#365722" stroke-width="1.5" transform="rotate(6.7 634.5 820.7)"/>
<rect x="651.1" y="818.6" width="19.8" height="10.5" rx="4.5" fill="#a9c586" stroke="#365722" stroke-width="1.5" transform="rotate(2.3 661 823.9)"/>
</g>
<path d="M709 824 C720 826.2 753 832.7 775 837 C797 841.3 830 847.8 841 850 L843 850 L843 868.6 C831.7 866.8 797.3 861.5 775 857.5 C752.7 853.5 720 846.7 709 844.5 Z" fill="#6f9d42" stroke="#365722" stroke-width="1.9" stroke-linejoin="round"/>
<clipPath id="clipRB"><rect x="709.5" y="800" width="133.5" height="80"/></clipPath>
<g clip-path="url(#clipRB)">
<rect x="700" y="829.5" width="16.5" height="9.5" rx="4.5" fill="#a9c586" stroke="#365722" stroke-width="1.5" transform="rotate(4.9 708.2 834.2)"/>
<rect x="721.5" y="833.6" width="16.5" height="9.5" rx="4.5" fill="#a9c586" stroke="#365722" stroke-width="1.5" transform="rotate(11.1 729.8 838.3)"/>
<rect x="743" y="837.8" width="16.5" height="9.5" rx="4.5" fill="#a9c586" stroke="#365722" stroke-width="1.5" transform="rotate(11.1 751.2 842.6)"/>
<rect x="764.5" y="842.1" width="16.5" height="9.5" rx="4.5" fill="#a9c586" stroke="#365722" stroke-width="1.5" transform="rotate(11.1 772.8 846.8)"/>
<rect x="786" y="846" width="16.5" height="9.5" rx="4.5" fill="#a9c586" stroke="#365722" stroke-width="1.5" transform="rotate(11.1 794.2 850.7)"/>
<rect x="807.5" y="849.8" width="16.5" height="9.5" rx="4.5" fill="#a9c586" stroke="#365722" stroke-width="1.5" transform="rotate(11.1 815.8 854.6)"/>
<rect x="829" y="853.7" width="16.5" height="9.5" rx="4.5" fill="#a9c586" stroke="#365722" stroke-width="1.5" transform="rotate(9.1 837.2 858.5)"/>
</g>
<path d="M223 990.2 L475 1002.5 L845 998.5 L845 1040 C830.8 1041.7 785.9 1047.4 760 1050 C734.1 1052.6 716.3 1056 689.6 1055.8 C662.9 1055.6 635.8 1051 600 1049 C564.2 1047 510 1045 475 1043.6 C440 1042.1 432 1042.5 390 1040.3 C348 1038.1 250.8 1032 223 1030.3 Z" fill="#b7d190" stroke="#365722" stroke-width="2" stroke-linejoin="round"/>
<path d="M659.7 566 Q659.7 559.5 663.8 559.5 Q668 559.5 668 566 L700.4 566 Q700.4 559.5 704.9 559.5 Q709.5 559.5 709.5 566 L709.5 900 C712 915 752 930 758.5 968 L757.6 1000 L619.5 1003 L617.4 976 C620 930 657 915 659.7 900 Z" fill="#c4dba3" stroke="#365722" stroke-width="1.6"/>
<rect x="660.5" y="566" width="7" height="340" fill="#c0db9d"/>
<rect x="701.2" y="566" width="7.5" height="340" fill="#c0db9d"/>
<path d="M668 566 L668 930 M700.4 566 L700.4 930" stroke="#365722" stroke-width="1.5"/>
<path d="M676 1041 L678.5 1013 C650 1004 645 965 668 940 L668 922 C640 930 626 955 626 978 C626 1010 650 1035 676 1041 Z" fill="#6b9b3e" stroke="#365722" stroke-width="1.7" stroke-linejoin="round"/>
<path d="M700.6 1041 L698 1013 C728 1004 735 965 700.4 940 L700.4 922 C735 930 750 955 750 978 C750 1010 728 1035 700.6 1041 Z" fill="#6b9b3e" stroke="#365722" stroke-width="1.7" stroke-linejoin="round"/>
<path d="M668 562.5 L700.4 562.5 L700.4 925 C700.4 933 729.4 952 729.4 977 A40.7 40.7 0 0 1 648 977 C648 952 668 933 668 925 Z" fill="#a8cedb" stroke="#365722" stroke-width="1.6"/>
<rect x="677.3" y="645" width="14.4" height="207" fill="url(#ytube)"/>
<path d="M671.5 851.4 L698.5 851.4 L684.5 880.3 Z" fill="#f4e18c"/>
<path d="M686.3 901 L686.3 953" stroke="#1e4565" stroke-width="4.2"/>
<path d="M678.8 904 L686.3 889.9 L693.8 904 Z" fill="#1e4565"/>
<path d="M678.8 950.4 L686.3 964.5 L693.8 950.4 Z" fill="#1e4565"/>
<circle cx="667.2" cy="974.5" r="9.1" fill="url(#bub)" stroke="#33433a" stroke-width="1.3"/>
<ellipse cx="664" cy="970.4" rx="2.7" ry="1.5" fill="#fff" opacity=".7" transform="rotate(-35 664 970.4)"/>
<circle cx="688.8" cy="990.2" r="7.5" fill="url(#bub)" stroke="#33433a" stroke-width="1.3"/>
<ellipse cx="686.2" cy="986.8" rx="2.2" ry="1.2" fill="#fff" opacity=".7" transform="rotate(-35 686.2 986.8)"/>
<circle cx="710.3" cy="982" r="8" fill="url(#pbub)" stroke="#33433a" stroke-width="1.3"/>
<ellipse cx="707.5" cy="978.4" rx="2.4" ry="1.3" fill="#fff" opacity=".7" transform="rotate(-35 707.5 978.4)"/>
<g transform="translate(781.7 884.9) rotate(20)">
<ellipse rx="21.6" ry="15.8" fill="#71a043" stroke="#365722" stroke-width="2"/>
<ellipse rx="17.8" ry="12" fill="url(#inner)" stroke="#365722" stroke-width="1.5"/>
<circle cx="-6.2" cy="3.3" r="3.5" fill="url(#dot)" stroke="#42642a" stroke-width="1.5"/>
<circle cx="-2.5" cy="-4.7" r="3.3" fill="url(#dot)" stroke="#42642a" stroke-width="1.5"/>
<circle cx="6.4" cy="4" r="3.9" fill="url(#dot)" stroke="#42642a" stroke-width="1.5"/>
<circle cx="-13.3" cy="1.1" r="2.1" fill="url(#dot)" stroke="#42642a" stroke-width="1.5"/>
<circle cx="10.6" cy="-3.9" r="2.4" fill="url(#dot)" stroke="#42642a" stroke-width="1.5"/>
</g>
<circle cx="726.9" cy="869.1" r="10.5" fill="url(#ybub)" stroke="#33433a" stroke-width="1.3"/>
<ellipse cx="723.2" cy="864.4" rx="3.1" ry="1.7" fill="#fff" opacity=".7" transform="rotate(-35 723.2 864.4)"/>
<text x="739" y="882" font-family="Liberation Sans" font-size="13" fill="#6b2f7c">x</text>
<circle cx="740.2" cy="908.1" r="8.3" fill="url(#pbub)" stroke="#33433a" stroke-width="1.3"/>
<ellipse cx="737.3" cy="904.4" rx="2.5" ry="1.3" fill="#fff" opacity=".7" transform="rotate(-35 737.3 904.4)"/>
<circle cx="756.8" cy="915.6" r="6.6" fill="url(#pbub)" stroke="#33433a" stroke-width="1.3"/>
<ellipse cx="754.5" cy="912.6" rx="2" ry="1.1" fill="#fff" opacity=".7" transform="rotate(-35 754.5 912.6)"/>
<path d="M745 933.5 C758 942 774 942 790 933 C803 923 812 905 817 887" fill="none" stroke="#7e2f91" stroke-width="3.2" stroke-linecap="round"/>
<path d="M809.5 889 L819.5 879 L822 893.5 Z" fill="#7e2f91" stroke="#7e2f91" stroke-width="1.5" stroke-linejoin="round"/>
<circle cx="790" cy="933" r="11.3" fill="url(#ybub)" stroke="#33433a" stroke-width="1.3"/>
<ellipse cx="786" cy="927.9" rx="3.4" ry="1.8" fill="#fff" opacity=".7" transform="rotate(-35 786 927.9)"/>
<circle cx="782.5" cy="960.4" r="10.5" fill="url(#ybub)" stroke="#33433a" stroke-width="1.3"/>
<ellipse cx="778.8" cy="955.7" rx="3.1" ry="1.7" fill="#fff" opacity=".7" transform="rotate(-35 778.8 955.7)"/>
<text x="799.5" y="964.5" font-family="Liberation Sans" font-size="26" fill="#7e2f91" stroke="#7e2f91" stroke-width="0.9" textLength="15" lengthAdjust="spacingAndGlyphs">C</text>
<text x="815" y="963.5" font-family="Liberation Sans" font-size="12.5" fill="#6b2a7c" stroke="#6b2a7c" stroke-width="0.3" textLength="17.5" lengthAdjust="spacingAndGlyphs">oB</text>
<g transform="translate(552.3 877) rotate(-20)">
<ellipse rx="25.7" ry="32.9" fill="#71a043" stroke="#365722" stroke-width="2"/>
<ellipse rx="20.7" ry="27.9" fill="url(#inner)" stroke="#365722" stroke-width="1.5"/>
<circle cx="-1.2" cy="14.2" r="3.8" fill="url(#dot)" stroke="#42642a" stroke-width="1.5"/>
<circle cx="1.5" cy="-15.9" r="3.6" fill="url(#dot)" stroke="#42642a" stroke-width="1.5"/>
<circle cx="-8.3" cy="-14.5" r="3.2" fill="url(#dot)" stroke="#42642a" stroke-width="1.5"/>
<circle cx="10.5" cy="9.2" r="5.6" fill="url(#dot)" stroke="#42642a" stroke-width="1.5"/>
<circle cx="-12.8" cy="4.9" r="3.4" fill="url(#dot)" stroke="#42642a" stroke-width="1.5"/>
<circle cx="8" cy="-3.7" r="3.9" fill="url(#dot)" stroke="#42642a" stroke-width="1.5"/>
<circle cx="-2" cy="4.6" r="3.3" fill="url(#dot)" stroke="#42642a" stroke-width="1.5"/>
</g>
<g transform="translate(622.1 851.4) rotate(5)">
<ellipse rx="23.6" ry="15.4" fill="#71a043" stroke="#365722" stroke-width="2"/>
<ellipse rx="19.6" ry="11.4" fill="url(#inner)" stroke="#365722" stroke-width="1.5"/>
<circle cx="12.9" cy="2.5" r="2" fill="url(#dot)" stroke="#42642a" stroke-width="1.5"/>
<circle cx="-3.2" cy="4.8" r="3.1" fill="url(#dot)" stroke="#42642a" stroke-width="1.5"/>
<circle cx="3.3" cy="-2.5" r="2.1" fill="url(#dot)" stroke="#42642a" stroke-width="1.5"/>
<circle cx="-8.7" cy="-2.5" r="1.8" fill="url(#dot)" stroke="#42642a" stroke-width="1.5"/>
<circle cx="10.6" cy="-3" r="2.1" fill="url(#dot)" stroke="#42642a" stroke-width="1.5"/>
</g>
<g transform="translate(590.3 958.2) rotate(5)">
<ellipse rx="15.4" ry="21.6" fill="#71a043" stroke="#365722" stroke-width="2"/>
<ellipse rx="11.9" ry="18.1" fill="url(#inner)" stroke="#365722" stroke-width="1.5"/>
<circle cx="-3.7" cy="7.1" r="3.7" fill="url(#dot)" stroke="#42642a" stroke-width="1.5"/>
<circle cx="-3.2" cy="-11.5" r="1.7" fill="url(#dot)" stroke="#42642a" stroke-width="1.5"/>
<circle cx="1.6" cy="-0.9" r="3.3" fill="url(#dot)" stroke="#42642a" stroke-width="1.5"/>
<circle cx="3.9" cy="-11" r="2.3" fill="url(#dot)" stroke="#42642a" stroke-width="1.5"/>
<circle cx="7" cy="5.3" r="2" fill="url(#dot)" stroke="#42642a" stroke-width="1.5"/>
<circle cx="2.6" cy="12.2" r="1.7" fill="url(#dot)" stroke="#42642a" stroke-width="1.5"/>
</g>
<g transform="translate(346 903.5) rotate(-15)">
<ellipse rx="27" ry="20" fill="#71a043" stroke="#365722" stroke-width="2"/>
<ellipse rx="22.5" ry="15.5" fill="url(#inner)" stroke="#365722" stroke-width="1.5"/>
<circle cx="15.5" cy="-4.9" r="2.8" fill="url(#dot)" stroke="#42642a" stroke-width="1.5"/>
<circle cx="14.9" cy="5" r="3" fill="url(#dot)" stroke="#42642a" stroke-width="1.5"/>
<circle cx="6.2" cy="0.7" r="2.9" fill="url(#dot)" stroke="#42642a" stroke-width="1.5"/>
<circle cx="-7.2" cy="-7.9" r="4.7" fill="url(#dot)" stroke="#42642a" stroke-width="1.5"/>
<circle cx="-1.2" cy="5.8" r="4.4" fill="url(#dot)" stroke="#42642a" stroke-width="1.5"/>
<circle cx="-13.4" cy="4.2" r="3.1" fill="url(#dot)" stroke="#42642a" stroke-width="1.5"/>
</g>
<g transform="translate(268 947.5) rotate(25)">
<ellipse rx="30" ry="34" fill="#71a043" stroke="#365722" stroke-width="2"/>
<ellipse rx="24.5" ry="28.5" fill="url(#inner)" stroke="#365722" stroke-width="1.5"/>
<circle cx="-7.5" cy="1.2" r="6.9" fill="url(#dot)" stroke="#42642a" stroke-width="1.5"/>
<circle cx="8.8" cy="4.5" r="4.7" fill="url(#dot)" stroke="#42642a" stroke-width="1.5"/>
<circle cx="11.5" cy="-10.6" r="7.8" fill="url(#dot)" stroke="#42642a" stroke-width="1.5"/>
<circle cx="0.8" cy="19.1" r="7.2" fill="url(#dot)" stroke="#42642a" stroke-width="1.5"/>
<circle cx="-17" cy="9.9" r="3.5" fill="url(#dot)" stroke="#42642a" stroke-width="1.5"/>
<circle cx="-6.7" cy="-18.2" r="4.8" fill="url(#dot)" stroke="#42642a" stroke-width="1.5"/>
<circle cx="-15.4" cy="-9.6" r="4" fill="url(#dot)" stroke="#42642a" stroke-width="1.5"/>
<circle cx="14" cy="13.4" r="4" fill="url(#dot)" stroke="#42642a" stroke-width="1.5"/>
</g>
<circle cx="381.5" cy="877.5" r="7" fill="url(#bub)" stroke="#33433a" stroke-width="1.3"/>
<ellipse cx="379.1" cy="874.4" rx="2.1" ry="1.1" fill="#fff" opacity=".7" transform="rotate(-35 379.1 874.4)"/>
<circle cx="301.5" cy="975.5" r="6.8" fill="url(#bub)" stroke="#33433a" stroke-width="1.3"/>
<ellipse cx="299.1" cy="972.4" rx="2" ry="1.1" fill="#fff" opacity=".7" transform="rotate(-35 299.1 972.4)"/>
<circle cx="614.9" cy="881.6" r="10" fill="url(#bub)" stroke="#33433a" stroke-width="1.3"/>
<ellipse cx="611.4" cy="877.1" rx="3" ry="1.6" fill="#fff" opacity=".7" transform="rotate(-35 611.4 877.1)"/>
<circle cx="643.5" cy="897.8" r="7.5" fill="url(#bub)" stroke="#33433a" stroke-width="1.3"/>
<ellipse cx="640.9" cy="894.4" rx="2.2" ry="1.2" fill="#fff" opacity=".7" transform="rotate(-35 640.9 894.4)"/>
<circle cx="620.7" cy="921.4" r="7.5" fill="url(#bub)" stroke="#33433a" stroke-width="1.3"/>
<ellipse cx="618.1" cy="918" rx="2.2" ry="1.2" fill="#fff" opacity=".7" transform="rotate(-35 618.1 918)"/>
<text x="597" y="908.8" font-family="Liberation Sans" font-size="12.5" fill="#2e4d70" stroke="#2e4d70" stroke-width="0.3" textLength="35" lengthAdjust="spacingAndGlyphs">water</text>
</svg></div>
    <div id="slidebadge" class="abs"></div>
    <div id="slidetxt" class="abs">SLIDE 4</div>
  </div>
</div>

<div id="rtitle" class="abs">Inside the Leaf Factory</div>
<div class="bul" style="top:414.5px"></div><div class="btxt" style="top:401.7px">Chlorophyll makes plants green</div>
<div class="bul" style="top:475.3px"></div><div class="btxt" style="top:461.9px">Tiny holes called stomata</div>
<div class="bul" style="top:535.6px"></div><div class="btxt" style="top:522.1px">Acting like a solar panel</div>
<div class="bul" style="top:595.6px"></div><div class="btxt" style="top:582.3px">The plant's kitchen</div>

<div id="focus" class="abs"></div>
<div id="focuslbl" class="abs">TUTOR FOCUS</div>
<div id="quote" class="abs">
<span class="q">"Think of a leaf as a tiny kitchen. The green color</span>
<span class="q">comes from something called chlorophyll, which acts</span>
<span class="q">like a solar panel to catch the sun's energy. The leaf</span>
<span class="q">also has tiny invisible holes to let air in and out. It's a</span>
<span class="q">very busy place!"</span>
</div>
</body></html>
